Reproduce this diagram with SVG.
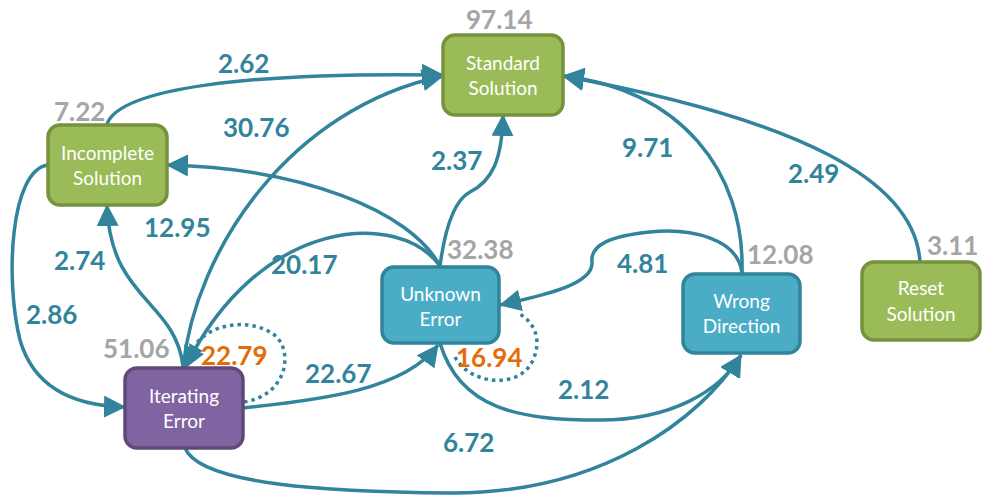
<svg xmlns="http://www.w3.org/2000/svg" width="984" height="497" viewBox="0 0 984 497">
  <style>
    .box { stroke-width: 3.5; }
    .green { fill: #9BBB59; stroke: #76923C; }
    .blue { fill: #4BACC6; stroke: #31849B; }
    .purple { fill: #8064A2; stroke: #5F497A; }
    .name { font-family: Lato, "Open Sans", sans-serif; font-size: 19px; fill: #FFFFFF; text-anchor: middle; }
    .edge { fill: none; stroke: #31849B; stroke-width: 3.5; }
    .dot { fill: none; stroke: #31849B; stroke-width: 3.5; stroke-dasharray: 3.5 4; }
    .w { font-family: Lato, "Open Sans", sans-serif; font-size: 26px; font-weight: bold; fill: #31849B; }
    .total { font-family: Lato, "Open Sans", sans-serif; font-size: 26px; font-weight: bold; fill: #A5A5A5; }
    .self { font-family: Lato, "Open Sans", sans-serif; font-size: 26px; font-weight: bold; fill: #E36C09; }
  </style>
  <defs>
    <marker id="arrow" markerUnits="userSpaceOnUse" markerWidth="22" markerHeight="22" refX="21" refY="11" orient="auto">
      <path d="M0,0 L22,11 L0,22 z" fill="#31849B"/>
    </marker>
  </defs>

  <!-- connectors -->
  <g id="connectors">
    <!-- Incomplete -> Standard -->
    <path class="edge" marker-end="url(#arrow)" d="M107,124 C 120,88 250,72 443,75"/>
    <!-- Iterating -> Standard -->
    <path class="edge" marker-end="url(#arrow)" d="M183,368 C 195,250 290,108 443,76"/>
    <!-- Iterating -> Incomplete -->
    <path class="edge" marker-end="url(#arrow)" d="M183,366 C 175,300 110,300 107,205"/>
    <!-- Unknown -> Incomplete -->
    <path class="edge" marker-end="url(#arrow)" d="M440,266 C 410,210 300,168 167,165"/>
    <!-- Unknown -> Iterating -->
    <path class="edge" marker-end="url(#arrow)" d="M440,266 C 400,210 260,215 185,368"/>
    <!-- Unknown -> Standard -->
    <path class="edge" marker-end="url(#arrow)" d="M440,266 C 445,228 455,200 470,192 C 492,181 502,160 503,115"/>
    <!-- Incomplete -> Iterating -->
    <path class="edge" marker-end="url(#arrow)" d="M48,165 C 10,170 5,280 20,340 C 35,392 80,406 125,407"/>
    <!-- Iterating -> Unknown -->
    <path class="edge" marker-end="url(#arrow)" d="M243,408 C 320,400 405,390 438,345"/>
    <!-- Iterating -> Wrong -->
    <path class="edge" marker-end="url(#arrow)" d="M185,448 C 200,485 330,492 450,493 C 600,494 700,420 741,355"/>
    <!-- Unknown -> Wrong -->
    <path class="edge" marker-end="url(#arrow)" d="M440,343 C 460,410 520,420 600,420 C 670,420 720,392 741,355"/>
    <!-- Wrong -> Unknown -->
    <path class="edge" marker-end="url(#arrow)" d="M742,273 C 738,238 690,228 650,232 C 610,236 590,245 592,262 C 594,285 540,296 500,305"/>
    <!-- Wrong -> Standard -->
    <path class="edge" marker-end="url(#arrow)" d="M742,273 C 745,170 680,90 563,76"/>
    <!-- Reset -> Standard -->
    <path class="edge" marker-end="url(#arrow)" d="M920,262 C 915,180 800,120 563,76"/>
    <!-- Iterating self loop -->
    <path class="dot" d="M244,402 C 290,395 295,345 270,332 C 245,318 210,325 196,344"/>
    <path d="M189,343 L203,351 L190,357 z" fill="#31849B"/>
    <!-- Unknown self loop -->
    <path class="dot" d="M455,357 C 470,385 520,390 533,360 C 542,340 535,322 518,313"/>
  </g>

  <!-- nodes -->
  <g id="standard-solution">
    <rect class="box green" x="443" y="35" width="120" height="80" rx="12"/>
    <text class="name" x="503" y="70">Standard</text>
    <text class="name" x="503" y="95">Solution</text>
  </g>
  <g id="incomplete-solution">
    <rect class="box green" x="48" y="125" width="119" height="80" rx="12"/>
    <text class="name" x="107.5" y="160">Incomplete</text>
    <text class="name" x="107.5" y="185">Solution</text>
  </g>
  <g id="iterating-error">
    <rect class="box purple" x="125" y="368" width="118" height="80" rx="12"/>
    <text class="name" x="184" y="403">Iterating</text>
    <text class="name" x="184" y="428">Error</text>
  </g>
  <g id="unknown-error">
    <rect class="box blue" x="382" y="267" width="117" height="76" rx="12"/>
    <text class="name" x="440.5" y="301">Unknown</text>
    <text class="name" x="440.5" y="326">Error</text>
  </g>
  <g id="wrong-direction">
    <rect class="box blue" x="683" y="274" width="117" height="79" rx="12"/>
    <text class="name" x="741.5" y="308">Wrong</text>
    <text class="name" x="741.5" y="333">Direction</text>
  </g>
  <g id="reset-solution">
    <rect class="box green" x="862" y="262" width="118" height="78" rx="12"/>
    <text class="name" x="921" y="295">Reset</text>
    <text class="name" x="921" y="321">Solution</text>
  </g>

  <!-- node totals -->
  <g id="totals">
    <text class="total" x="466" y="29">97.14</text>
    <text class="total" x="54" y="121">7.22</text>
    <text class="total" x="103" y="358">51.06</text>
    <text class="total" x="447" y="259">32.38</text>
    <text class="total" x="747" y="264">12.08</text>
    <text class="total" x="927" y="255">3.11</text>
  </g>

  <!-- transition weights -->
  <g id="weights">
    <text class="w" x="218" y="73">2.62</text>
    <text class="w" x="223" y="137">30.76</text>
    <text class="w" x="144" y="237">12.95</text>
    <text class="w" x="54" y="270">2.74</text>
    <text class="w" x="26" y="324">2.86</text>
    <text class="w" x="271" y="274">20.17</text>
    <text class="w" x="431" y="170">2.37</text>
    <text class="w" x="622" y="157">9.71</text>
    <text class="w" x="788" y="183">2.49</text>
    <text class="w" x="617" y="273">4.81</text>
    <text class="w" x="305" y="383">22.67</text>
    <text class="w" x="558" y="399">2.12</text>
    <text class="w" x="443" y="452">6.72</text>
    <text class="self" x="201" y="365">22.79</text>
    <text class="self" x="456" y="367">16.94</text>
  </g>
</svg>
